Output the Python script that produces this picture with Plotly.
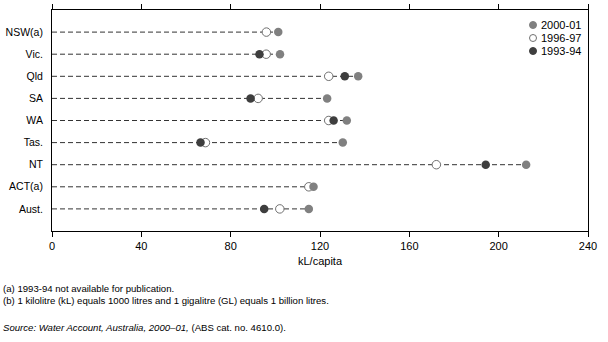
import plotly.graph_objects as go

categories = ["NSW(a)", "Vic.", "Qld", "SA", "WA", "Tas.", "NT", "ACT(a)", "Aust."]
v2000_01 = [101.3, 102.1, 137.1, 123.2, 132.0, 130.2, 212.3, 117.1, 115.0]
v1996_97 = [96.0, 95.9, 123.9, 92.3, 123.9, 68.7, 172.1, 115.0, 102.0]
v1993_94 = [None, 92.9, 131.1, 88.9, 126.1, 66.5, 194.2, None, 95.0]
series_names = ["2000-01", "1996-97", "1993-94"]
x_ticks = [0, 40, 80, 120, 160, 200, 240]

FONT = "Liberation Sans, Arial, sans-serif"
C_2000 = "#808080"
C_1993 = "#3e3e3e"
C_OPEN_LINE = "#707070"

# dashed guide lines from 0 to the max value in each row
lx, ly = [], []
for i, c in enumerate(categories):
    vals = [v for v in (v2000_01[i], v1996_97[i], v1993_94[i]) if v is not None]
    lx += [0, max(vals), None]
    ly += [c, c, None]

fig = go.Figure()
fig.add_trace(go.Scatter(x=lx, y=ly, mode="lines",
                         line=dict(color="#333333", width=1, dash="5px,3px"),
                         showlegend=False, hoverinfo="skip"))
fig.add_trace(go.Scatter(x=v1996_97, y=categories, mode="markers", name=series_names[1],
                         marker=dict(size=8.5, color="white", line=dict(color=C_OPEN_LINE, width=1)),
                         showlegend=False))
fig.add_trace(go.Scatter(x=v1993_94, y=categories, mode="markers", name=series_names[2],
                         marker=dict(size=8.5, color=C_1993, line=dict(color=C_1993, width=0)),
                         showlegend=False))
fig.add_trace(go.Scatter(x=v2000_01, y=categories, mode="markers", name=series_names[0],
                         marker=dict(size=8.5, color=C_2000, line=dict(color=C_2000, width=0)),
                         showlegend=False))

PLOT_TOP, PLOT_BOTTOM, PLOT_LEFT, PLOT_RIGHT = 10, 231, 52, 588
H = PLOT_BOTTOM - PLOT_TOP
W = PLOT_RIGHT - PLOT_LEFT


def py(pxy):
    return (PLOT_BOTTOM - pxy) / H


def px(pxx):
    return (pxx - PLOT_LEFT) / W


shapes = []
annotations = []
# manual legend
leg_styles = [
    dict(fill=C_2000, line=C_2000),
    dict(fill="white", line=C_OPEN_LINE),
    dict(fill=C_1993, line=C_1993),
]
for k, (name, st) in enumerate(zip(series_names, leg_styles)):
    yy = 25 + 13 * k
    shapes.append(dict(type="circle", xref="paper", yref="paper",
                       xsizemode="pixel", ysizemode="pixel",
                       xanchor=px(533), yanchor=py(yy),
                       x0=-3.5, x1=3.5, y0=-3.5, y1=3.5,
                       fillcolor=st["fill"], line=dict(color=st["line"], width=1)))
    annotations.append(dict(text=name, xref="paper", yref="paper",
                            x=px(539), y=py(yy), xanchor="left", yanchor="middle",
                            showarrow=False, font=dict(size=11, color="#000", family=FONT)))

notes = [
    ("(a) 1993-94 not available for publication.", 288),
    ("(b) 1 kilolitre (kL) equals 1000 litres and 1 gigalitre (GL) equals 1 billion litres.", 300),
    ("<i>Source: Water Account, Australia, 2000–01,</i> (ABS cat. no. 4610.0).", 327),
]
for t, yy in notes:
    annotations.append(dict(text=t, xref="paper", yref="paper",
                            x=px(1), y=py(yy), xanchor="left", yanchor="middle",
                            showarrow=False, font=dict(size=9.6, color="#000", family=FONT)))

fig.update_layout(
    width=608, height=342,
    margin=dict(l=PLOT_LEFT, r=608 - PLOT_RIGHT, t=PLOT_TOP, b=342 - PLOT_BOTTOM, pad=0),
    paper_bgcolor="white", plot_bgcolor="white",
    font=dict(family=FONT, size=11, color="#000"),
    showlegend=False,
    shapes=shapes, annotations=annotations,
    xaxis=dict(range=[0, 240], tickvals=x_ticks, ticks="outside", ticklen=5,
               tickcolor="#000", tickwidth=1, automargin=False,
               showline=True, linecolor="#000", linewidth=1, mirror="ticks",
               showgrid=False, zeroline=False,
               title=dict(text="kL/capita", standoff=6, font=dict(size=11)),
               tickfont=dict(size=11)),
    yaxis=dict(type="category", categoryorder="array", categoryarray=categories,
               range=[len(categories), -1], showline=True, linecolor="#000",
               linewidth=1, mirror=True, showgrid=False, zeroline=False,
               automargin=False,
               ticks="", ticklabelstandoff=6, tickfont=dict(size=10.5)),
)

fig.write_html("out.html")
